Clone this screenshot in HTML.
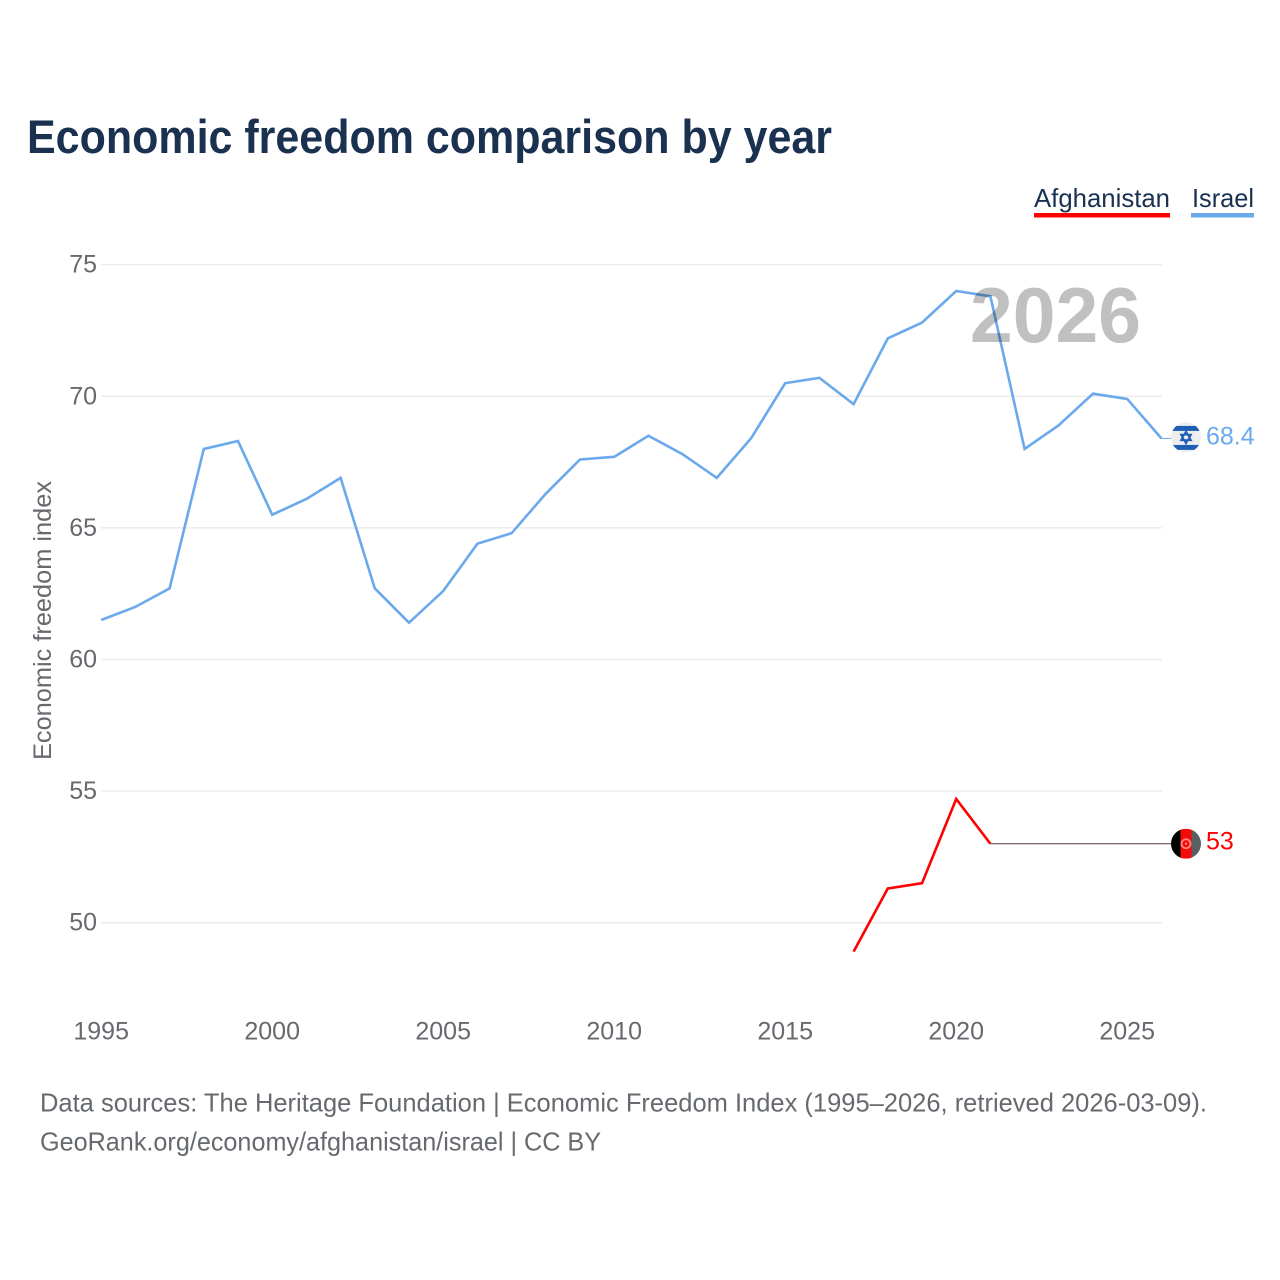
<!DOCTYPE html>
<html lang="en">
<head>
<meta charset="utf-8">
<title>Economic freedom comparison by year</title>
<style>
html,body{margin:0;padding:0;background:#fff;}
svg{display:block;font-family:"Liberation Sans",sans-serif;}
</style>
</head>
<body>
<svg id="chart" xmlns="http://www.w3.org/2000/svg" width="1280" height="1280" viewBox="0 0 1280 1280">
  <rect width="1280" height="1280" fill="#ffffff"/>
  <defs>
    <clipPath id="clip-il"><circle cx="0" cy="0" r="15"/></clipPath>
    <clipPath id="clip-af"><circle cx="0" cy="0" r="15"/></clipPath>
  </defs>
  <text x="27" y="153" font-size="47" font-weight="700" fill="#1a3150" textLength="805" lengthAdjust="spacingAndGlyphs">Economic freedom comparison by year</text>

  <g>
    <text x="1034" y="207" font-size="26" fill="#1a3150" textLength="136" lengthAdjust="spacingAndGlyphs">Afghanistan</text>
    <rect x="1034" y="213" width="136" height="4.5" fill="#ff0000"/>
  </g>
  <g>
    <text x="1192" y="207" font-size="26" fill="#1a3150" textLength="62" lengthAdjust="spacingAndGlyphs">Israel</text>
    <rect x="1191" y="213" width="63" height="4.5" fill="#6aa9ec"/>
  </g>

  <text transform="translate(51,620.5) rotate(-90)" text-anchor="middle" font-size="25" fill="#666a6e" textLength="279" lengthAdjust="spacingAndGlyphs">Economic freedom index</text>

  <g id="grid"></g>
  <g id="y-ticks"></g>
  <g id="x-ticks"></g>
  <g id="series"></g>

  <text x="970" y="342" font-size="78" font-weight="700" fill="#c0c0c0" textLength="171" lengthAdjust="spacingAndGlyphs" style="mix-blend-mode:multiply">2026</text>

  <g id="flag-il">
    <g clip-path="url(#clip-il)">
      <rect x="-15" y="-15" width="30" height="30" fill="#eeeeee"/>
      <rect x="-15" y="-11.5" width="30" height="5" fill="#1f5fb4"/>
      <rect x="-15" y="7.5" width="30" height="5" fill="#1f5fb4"/>
      <polygon points="0,-6 5,2.8 -5,2.8" fill="none" stroke="#1f5fb4" stroke-width="1.8"/>
      <polygon points="0,6 5,-2.8 -5,-2.8" fill="none" stroke="#1f5fb4" stroke-width="1.8"/>
    </g>
  </g>
  <g id="flag-af">
    <g clip-path="url(#clip-af)">
      <rect x="-15" y="-15" width="10" height="30" fill="#000000"/>
      <rect x="-5.5" y="-15" width="11.5" height="30" fill="#f50a0a"/>
      <rect x="5.5" y="-15" width="10" height="30" fill="#5a5f60"/>
      <circle cx="0" cy="0" r="4.5" fill="none" stroke="#ff8a80" stroke-width="1.8"/>
      <circle cx="0" cy="0" r="1.2" fill="#ff8a80"/>
    </g>
  </g>
  <text id="label-il" x="1206" font-size="25" fill="#6aa9ec"></text>
  <text id="label-af" x="1206" font-size="25" fill="#ff0000"></text>

  <text x="40" y="1111.5" font-size="26" fill="#666a6e" textLength="1167" lengthAdjust="spacingAndGlyphs">Data sources: The Heritage Foundation | Economic Freedom Index (1995–2026, retrieved 2026-03-09).</text>
  <text x="40" y="1150.5" font-size="26" fill="#666a6e" textLength="561" lengthAdjust="spacingAndGlyphs">GeoRank.org/economy/afghanistan/israel | CC BY</text>
</svg>
<script>
const years = [1995,1996,1997,1998,1999,2000,2001,2002,2003,2004,2005,2006,2007,2008,2009,2010,2011,2012,2013,2014,2015,2016,2017,2018,2019,2020,2021,2022,2023,2024,2025,2026];
const israelValues = [61.5,62.0,62.7,68.0,68.3,65.5,66.1,66.9,62.7,61.4,62.6,64.4,64.8,66.3,67.6,67.7,68.5,67.8,66.9,68.4,70.5,70.7,69.7,72.2,72.8,74.0,73.8,68.0,68.9,70.1,69.9,68.4];
const afghanistanYears = [2017,2018,2019,2020,2021];
const afghanistanValues = [48.9,51.3,51.5,54.7,53.0];
const afghanistanLatest = 53;
const yTickValues = [50,55,60,65,70,75];
const xTickValues = [1995,2000,2005,2010,2015,2020,2025];

const NS = 'http://www.w3.org/2000/svg';
function xScale(year){ return 101.2 + (year - 1995) * 34.2; }
function yScale(v){ return 922.7 - (v - 50) * 26.32; }
function make(tag, parent){
  const el = document.createElementNS(NS, tag);
  parent.appendChild(el);
  return el;
}

const grid = document.getElementById('grid');
const yTicks = document.getElementById('y-ticks');
yTickValues.forEach(function(v){
  const ln = make('line', grid);
  
  
  ln.setAttribute('x1', 101);
  ln.setAttribute('x2', 1162);
  ln.setAttribute('y1', yScale(v));
  ln.setAttribute('y2', yScale(v));
  ln.setAttribute('stroke', '#ececec');
  ln.setAttribute('stroke-width', '1.5');
  const t = make('text', yTicks);
  
  
  t.setAttribute('x', 97);
  t.setAttribute('y', yScale(v) + 8);
  t.setAttribute('text-anchor', 'end');
  t.setAttribute('font-size', '25');
  t.setAttribute('fill', '#666a6e');
  t.textContent = v;
});

const xTicks = document.getElementById('x-ticks');
xTickValues.forEach(function(y){
  const t = make('text', xTicks);
  
  
  t.setAttribute('x', xScale(y));
  t.setAttribute('y', 1039.5);
  t.setAttribute('text-anchor', 'middle');
  t.setAttribute('font-size', '25');
  t.setAttribute('fill', '#666a6e');
  t.textContent = y;
});

const series = document.getElementById('series');
const lastYear = years[years.length - 1];
const ilLast = israelValues[israelValues.length - 1];

const ilPts = years.map(function(y, i){ return xScale(y) + ',' + yScale(israelValues[i]); }).join(' ');
const ilLine = make('polyline', series);


ilLine.setAttribute('points', ilPts);
ilLine.setAttribute('fill', 'none');
ilLine.setAttribute('stroke', '#6aa9ec');
ilLine.setAttribute('stroke-width', '2.6');

const ilConn = make('line', series);


ilConn.setAttribute('x1', xScale(lastYear));
ilConn.setAttribute('x2', 1172);
ilConn.setAttribute('y1', yScale(ilLast));
ilConn.setAttribute('y2', yScale(ilLast));
ilConn.setAttribute('stroke', '#6aa9ec');
ilConn.setAttribute('stroke-width', '1');

const afPts = afghanistanYears.map(function(y, i){ return xScale(y) + ',' + yScale(afghanistanValues[i]); }).join(' ');
const afLine = make('polyline', series);


afLine.setAttribute('points', afPts);
afLine.setAttribute('fill', 'none');
afLine.setAttribute('stroke', '#ff0000');
afLine.setAttribute('stroke-width', '2.6');

const afLastYear = afghanistanYears[afghanistanYears.length - 1];
const afLastValue = afghanistanValues[afghanistanValues.length - 1];
const afConn = make('line', series);


afConn.setAttribute('x1', xScale(afLastYear));
afConn.setAttribute('x2', 1172);
afConn.setAttribute('y1', yScale(afLastValue));
afConn.setAttribute('y2', yScale(afghanistanLatest));
afConn.setAttribute('stroke', '#5a3a44');
afConn.setAttribute('stroke-width', '1');

document.getElementById('flag-il').setAttribute('transform', 'translate(1186,' + (yScale(ilLast) - 1) + ')');
document.getElementById('flag-af').setAttribute('transform', 'translate(1186,' + yScale(afghanistanLatest) + ')');
const labelIl = document.getElementById('label-il');
labelIl.setAttribute('y', yScale(ilLast) + 6);
labelIl.textContent = ilLast;
const labelAf = document.getElementById('label-af');
labelAf.setAttribute('y', yScale(afghanistanLatest) + 6);
labelAf.textContent = afghanistanLatest;
</script>
</body>
</html>
